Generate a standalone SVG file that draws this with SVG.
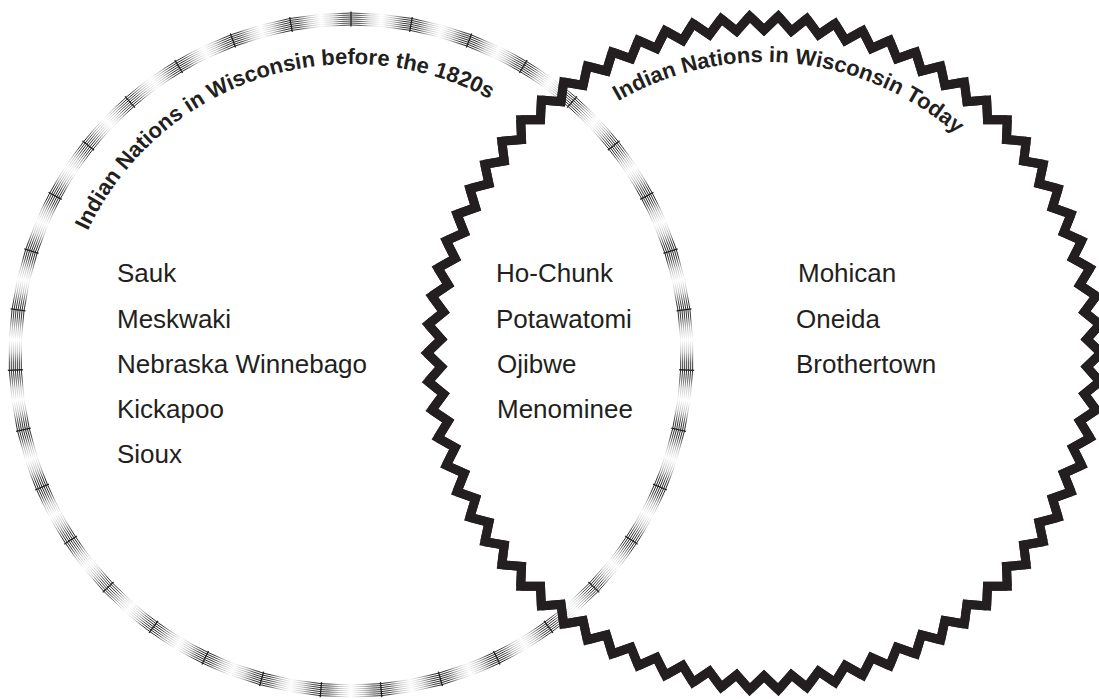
<svg xmlns="http://www.w3.org/2000/svg" xmlns:xlink="http://www.w3.org/1999/xlink" width="1099" height="699" viewBox="0 0 1099 699">
<style>
.lbl{font-family:"Liberation Sans",Arial,sans-serif;font-size:26px;fill:#231f20}
.ttl{font-family:"Liberation Sans",Arial,sans-serif;font-size:22px;font-weight:bold;fill:#231f20}
.fl{fill:none;stroke:url(#fade);stroke-width:0.8}
.tick{stroke:#231f20;stroke-width:1.3}
.zz{fill:none;stroke:#231f20;stroke-width:9;stroke-linejoin:miter;stroke-miterlimit:10}
</style>
<defs>
<linearGradient id="fade" gradientUnits="userSpaceOnUse" x1="-30.7" y1="0" x2="30.7" y2="0">
<stop offset="0" stop-color="#000" stop-opacity="0"/>
<stop offset="0.2" stop-color="#000" stop-opacity="0.3"/>
<stop offset="0.38" stop-color="#000" stop-opacity="0.9"/>
<stop offset="0.5" stop-color="#000" stop-opacity="1"/>
<stop offset="0.62" stop-color="#000" stop-opacity="0.9"/>
<stop offset="0.8" stop-color="#000" stop-opacity="0.3"/>
<stop offset="1" stop-color="#000" stop-opacity="0"/>
</linearGradient>
<g id="feather">
<path class="fl" d="M-29.58,-328.67A330,330 0 0 1 29.58,-328.67"/>
<path class="fl" d="M-29.76,-330.66A332,332 0 0 1 29.76,-330.66"/>
<path class="fl" d="M-29.94,-332.65A334,334 0 0 1 29.94,-332.65"/>
<path class="fl" d="M-30.12,-334.65A336,336 0 0 1 30.12,-334.65"/>
<path class="fl" d="M-30.30,-336.64A338,338 0 0 1 30.30,-336.64"/>
<path class="fl" d="M-30.48,-338.63A340,340 0 0 1 30.48,-338.63"/>
<path class="fl" d="M-30.66,-340.62A342,342 0 0 1 30.66,-340.62"/>
<line class="tick" x1="0" y1="-343.5" x2="0" y2="-328.5"/>
</g>
<polyline id="tooth" class="zz" points="-14.30,-336.70 0,-323 14.30,-336.70 27.39,-321.84 42.81,-334.27"/>
<path id="arcL" d="M60,355A291,291 0 0 1 642,355"/>
<path id="arcR" d="M473,353A291,291 0 0 1 1055,353"/>
</defs>

<g id="circle-before-1820s">
<g transform="translate(351,355)">
<use xlink:href="#feather"/>
<use xlink:href="#feather" transform="rotate(10.286)"/>
<use xlink:href="#feather" transform="rotate(20.571)"/>
<use xlink:href="#feather" transform="rotate(30.857)"/>
<use xlink:href="#feather" transform="rotate(41.143)"/>
<use xlink:href="#feather" transform="rotate(51.429)"/>
<use xlink:href="#feather" transform="rotate(61.714)"/>
<use xlink:href="#feather" transform="rotate(72)"/>
<use xlink:href="#feather" transform="rotate(82.286)"/>
<use xlink:href="#feather" transform="rotate(92.571)"/>
<use xlink:href="#feather" transform="rotate(102.857)"/>
<use xlink:href="#feather" transform="rotate(113.143)"/>
<use xlink:href="#feather" transform="rotate(123.429)"/>
<use xlink:href="#feather" transform="rotate(133.714)"/>
<use xlink:href="#feather" transform="rotate(144)"/>
<use xlink:href="#feather" transform="rotate(154.286)"/>
<use xlink:href="#feather" transform="rotate(164.571)"/>
<use xlink:href="#feather" transform="rotate(174.857)"/>
<use xlink:href="#feather" transform="rotate(185.143)"/>
<use xlink:href="#feather" transform="rotate(195.429)"/>
<use xlink:href="#feather" transform="rotate(205.714)"/>
<use xlink:href="#feather" transform="rotate(216)"/>
<use xlink:href="#feather" transform="rotate(226.286)"/>
<use xlink:href="#feather" transform="rotate(236.571)"/>
<use xlink:href="#feather" transform="rotate(246.857)"/>
<use xlink:href="#feather" transform="rotate(257.143)"/>
<use xlink:href="#feather" transform="rotate(267.429)"/>
<use xlink:href="#feather" transform="rotate(277.714)"/>
<use xlink:href="#feather" transform="rotate(288)"/>
<use xlink:href="#feather" transform="rotate(298.286)"/>
<use xlink:href="#feather" transform="rotate(308.571)"/>
<use xlink:href="#feather" transform="rotate(318.857)"/>
<use xlink:href="#feather" transform="rotate(329.143)"/>
<use xlink:href="#feather" transform="rotate(339.429)"/>
<use xlink:href="#feather" transform="rotate(349.714)"/>
</g>
<text class="ttl"><textPath xlink:href="#arcL" startOffset="128">Indian Nations in Wisconsin before the 1820s</textPath></text>
</g>

<g id="circle-today">
<g transform="translate(764,353)">
<use xlink:href="#tooth"/>
<use xlink:href="#tooth" transform="rotate(4.865)"/>
<use xlink:href="#tooth" transform="rotate(9.730)"/>
<use xlink:href="#tooth" transform="rotate(14.595)"/>
<use xlink:href="#tooth" transform="rotate(19.459)"/>
<use xlink:href="#tooth" transform="rotate(24.324)"/>
<use xlink:href="#tooth" transform="rotate(29.189)"/>
<use xlink:href="#tooth" transform="rotate(34.054)"/>
<use xlink:href="#tooth" transform="rotate(38.919)"/>
<use xlink:href="#tooth" transform="rotate(43.784)"/>
<use xlink:href="#tooth" transform="rotate(48.649)"/>
<use xlink:href="#tooth" transform="rotate(53.514)"/>
<use xlink:href="#tooth" transform="rotate(58.378)"/>
<use xlink:href="#tooth" transform="rotate(63.243)"/>
<use xlink:href="#tooth" transform="rotate(68.108)"/>
<use xlink:href="#tooth" transform="rotate(72.973)"/>
<use xlink:href="#tooth" transform="rotate(77.838)"/>
<use xlink:href="#tooth" transform="rotate(82.703)"/>
<use xlink:href="#tooth" transform="rotate(87.568)"/>
<use xlink:href="#tooth" transform="rotate(92.432)"/>
<use xlink:href="#tooth" transform="rotate(97.297)"/>
<use xlink:href="#tooth" transform="rotate(102.162)"/>
<use xlink:href="#tooth" transform="rotate(107.027)"/>
<use xlink:href="#tooth" transform="rotate(111.892)"/>
<use xlink:href="#tooth" transform="rotate(116.757)"/>
<use xlink:href="#tooth" transform="rotate(121.622)"/>
<use xlink:href="#tooth" transform="rotate(126.486)"/>
<use xlink:href="#tooth" transform="rotate(131.351)"/>
<use xlink:href="#tooth" transform="rotate(136.216)"/>
<use xlink:href="#tooth" transform="rotate(141.081)"/>
<use xlink:href="#tooth" transform="rotate(145.946)"/>
<use xlink:href="#tooth" transform="rotate(150.811)"/>
<use xlink:href="#tooth" transform="rotate(155.676)"/>
<use xlink:href="#tooth" transform="rotate(160.541)"/>
<use xlink:href="#tooth" transform="rotate(165.405)"/>
<use xlink:href="#tooth" transform="rotate(170.270)"/>
<use xlink:href="#tooth" transform="rotate(175.135)"/>
<use xlink:href="#tooth" transform="rotate(180)"/>
<use xlink:href="#tooth" transform="rotate(184.865)"/>
<use xlink:href="#tooth" transform="rotate(189.730)"/>
<use xlink:href="#tooth" transform="rotate(194.595)"/>
<use xlink:href="#tooth" transform="rotate(199.459)"/>
<use xlink:href="#tooth" transform="rotate(204.324)"/>
<use xlink:href="#tooth" transform="rotate(209.189)"/>
<use xlink:href="#tooth" transform="rotate(214.054)"/>
<use xlink:href="#tooth" transform="rotate(218.919)"/>
<use xlink:href="#tooth" transform="rotate(223.784)"/>
<use xlink:href="#tooth" transform="rotate(228.649)"/>
<use xlink:href="#tooth" transform="rotate(233.514)"/>
<use xlink:href="#tooth" transform="rotate(238.378)"/>
<use xlink:href="#tooth" transform="rotate(243.243)"/>
<use xlink:href="#tooth" transform="rotate(248.108)"/>
<use xlink:href="#tooth" transform="rotate(252.973)"/>
<use xlink:href="#tooth" transform="rotate(257.838)"/>
<use xlink:href="#tooth" transform="rotate(262.703)"/>
<use xlink:href="#tooth" transform="rotate(267.568)"/>
<use xlink:href="#tooth" transform="rotate(272.432)"/>
<use xlink:href="#tooth" transform="rotate(277.297)"/>
<use xlink:href="#tooth" transform="rotate(282.162)"/>
<use xlink:href="#tooth" transform="rotate(287.027)"/>
<use xlink:href="#tooth" transform="rotate(291.892)"/>
<use xlink:href="#tooth" transform="rotate(296.757)"/>
<use xlink:href="#tooth" transform="rotate(301.622)"/>
<use xlink:href="#tooth" transform="rotate(306.486)"/>
<use xlink:href="#tooth" transform="rotate(311.351)"/>
<use xlink:href="#tooth" transform="rotate(316.216)"/>
<use xlink:href="#tooth" transform="rotate(321.081)"/>
<use xlink:href="#tooth" transform="rotate(325.946)"/>
<use xlink:href="#tooth" transform="rotate(330.811)"/>
<use xlink:href="#tooth" transform="rotate(335.676)"/>
<use xlink:href="#tooth" transform="rotate(340.541)"/>
<use xlink:href="#tooth" transform="rotate(345.405)"/>
<use xlink:href="#tooth" transform="rotate(350.270)"/>
<use xlink:href="#tooth" transform="rotate(355.135)"/>
</g>
<text class="ttl"><textPath xlink:href="#arcR" startOffset="304">Indian Nations in Wisconsin Today</textPath></text>
</g>

<g id="list-before">
<text class="lbl" x="117" y="282">Sauk</text>
<text class="lbl" x="117" y="328">Meskwaki</text>
<text class="lbl" x="117" y="373">Nebraska Winnebago</text>
<text class="lbl" x="117" y="418">Kickapoo</text>
<text class="lbl" x="117" y="463">Sioux</text>
</g>
<g id="list-both">
<text class="lbl" x="496" y="282">Ho-Chunk</text>
<text class="lbl" x="496" y="328">Potawatomi</text>
<text class="lbl" x="497" y="373">Ojibwe</text>
<text class="lbl" x="497" y="418">Menominee</text>
</g>
<g id="list-today">
<text class="lbl" x="798" y="282">Mohican</text>
<text class="lbl" x="796" y="328">Oneida</text>
<text class="lbl" x="796" y="373">Brothertown</text>
</g>
</svg>
